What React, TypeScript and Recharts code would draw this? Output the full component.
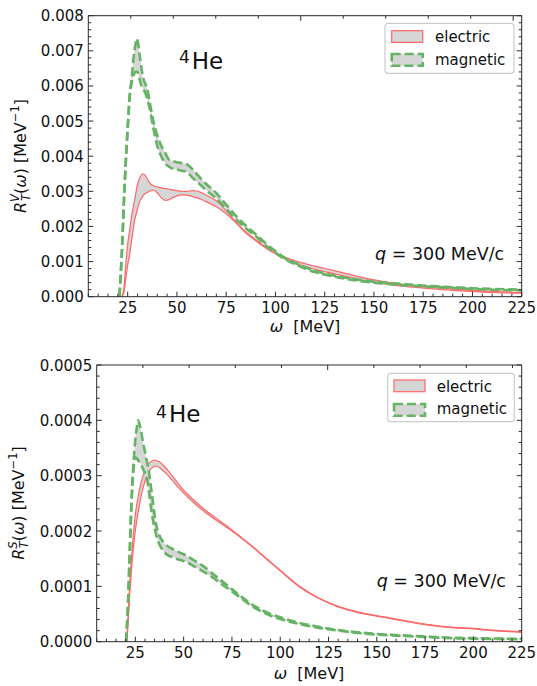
import React from "react";
import { ComposedChart, Area, XAxis, YAxis } from "recharts";

const FONT = "'DejaVu Sans', sans-serif";
const RED = "#ff6666";
const GREEN = "#66b366";
const BAND = "#d6d6d6";
const AXIS = "#2b2b2b";
const W = 537;
const H = 343;

// ---- isovector panel (top) ----
const omegaV = [20.8, 21, 22, 23, 24, 25, 26, 27, 28, 29, 29.6, 30, 31, 32, 33, 34, 35, 36, 38, 40, 42, 44, 46, 48, 50, 52, 55, 58, 60, 62, 65, 70, 75, 80, 85, 90, 95, 100, 105, 110, 115, 120, 130, 140, 150, 160, 170, 180, 190, 200, 210, 225];
const elecHiV = [null, null, 0, 0.0002, 0.0009, 0.0015, 0.0019, 0.0023, 0.0026, 0.0029, 0.0031, 0.0032, 0.00337, 0.00347, 0.0035, 0.00345, 0.00335, 0.00325, 0.00316, 0.00313, 0.0031, 0.00308, 0.00306, 0.00304, 0.00302, 0.003, 0.003, 0.00302, 0.00301, 0.00297, 0.00289, 0.00273, 0.00245, 0.00212, 0.00184, 0.00162, 0.00142, 0.00126, 0.00112, 0.00102, 0.00094, 0.00087, 0.00074, 0.0006, 0.00048, 0.00039, 0.00031, 0.00026, 0.00022, 0.00018, 0.00015, 0.00012];
const elecLoV = [null, null, 0, 0.0001, 0.0005, 0.0009, 0.0012, 0.0016, 0.002, 0.0023, 0.0024, 0.0025, 0.0027, 0.0028, 0.00289, 0.00294, 0.00297, 0.003, 0.00303, 0.00296, 0.00282, 0.00274, 0.00276, 0.00282, 0.00287, 0.0029, 0.00289, 0.00285, 0.00282, 0.00278, 0.0027, 0.00256, 0.00236, 0.0021, 0.00181, 0.00159, 0.00139, 0.00122, 0.00107, 0.00096, 0.00086, 0.00078, 0.00065, 0.00052, 0.00041, 0.00033, 0.00027, 0.00022, 0.00018, 0.00015, 0.00012, 0.0001];
const magHiV = [0, 0.0002, 0.0012, 0.0026, 0.0038, 0.0048, 0.0057, 0.0062, 0.0068, 0.0072, 0.00735, 0.0073, 0.0069, 0.0065, 0.0062, 0.00605, 0.0059, 0.0056, 0.005, 0.0046, 0.0043, 0.0041, 0.0039, 0.00386, 0.00383, 0.00381, 0.00377, 0.00362, 0.0035, 0.00337, 0.0032, 0.00295, 0.00262, 0.0023, 0.00202, 0.00178, 0.00152, 0.0013, 0.0011, 0.00096, 0.00084, 0.00074, 0.0006, 0.0005, 0.00043, 0.00038, 0.00034, 0.0003, 0.00027, 0.00024, 0.00022, 0.0002];
const magLoV = [0, 0.0002, 0.0012, 0.0026, 0.0038, 0.0048, 0.0057, 0.0061, 0.0063, 0.0064, 0.0064, 0.0064, 0.0062, 0.006, 0.0059, 0.0058, 0.0056, 0.0054, 0.0048, 0.0043, 0.004, 0.0038, 0.0037, 0.00364, 0.00362, 0.00359, 0.00355, 0.00338, 0.00328, 0.00318, 0.00302, 0.0028, 0.0025, 0.0022, 0.00194, 0.00172, 0.00146, 0.00125, 0.00106, 0.00092, 0.0008, 0.0007, 0.00057, 0.00047, 0.0004, 0.00035, 0.00031, 0.00028, 0.00025, 0.00022, 0.0002, 0.00018];
const yTicksV = [0, 0.001, 0.002, 0.003, 0.004, 0.005, 0.006, 0.007, 0.008];

// ---- isoscalar panel (bottom) ----
const omegaS = [20.2, 20.5, 21, 22, 23, 24, 25, 26, 26.5, 27, 28, 29, 30, 31, 32, 33, 34, 35, 36, 38, 40, 42, 44, 46, 48, 50, 55, 60, 65, 70, 75, 80, 85, 90, 95, 100, 110, 120, 130, 140, 150, 160, 175, 190, 200, 210, 225];
const elecHiS = [null, 0, 0.00003, 0.0001, 0.00015, 0.000195, 0.00023, 0.000253, 0.000263, 0.000272, 0.000288, 0.0003, 0.00031, 0.000317, 0.000322, 0.000325, 0.000327, 0.000328, 0.000327, 0.000324, 0.000317, 0.000309, 0.0003, 0.000291, 0.000282, 0.000274, 0.000257, 0.000241, 0.000228, 0.000215, 0.000202, 0.000188, 0.000174, 0.000159, 0.000144, 0.000129, 0.0001, 0.000079, 0.000064, 0.000054, 0.000047, 0.000041, 0.000032, 0.000026, 0.000024, 0.000021, 0.000018];
const elecLoS = [null, 0, 0.00002, 0.00008, 0.00013, 0.00017, 0.0002, 0.000225, 0.000235, 0.000245, 0.000263, 0.000278, 0.00029, 0.0003, 0.000307, 0.000312, 0.000315, 0.000317, 0.000317, 0.000313, 0.000307, 0.0003, 0.000292, 0.000284, 0.000276, 0.000269, 0.000252, 0.000237, 0.000224, 0.000212, 0.0002, 0.000187, 0.000173, 0.000158, 0.000143, 0.000128, 0.000099, 0.000078, 0.000063, 0.000053, 0.000046, 0.00004, 0.000031, 0.000025, 0.000023, 0.00002, 0.000017];
const magHiS = [0, 0.00002, 0.00005, 0.00015, 0.00025, 0.00032, 0.000365, 0.000392, 0.0004, 0.000395, 0.00038, 0.00036, 0.000343, 0.000325, 0.000308, 0.000282, 0.000255, 0.000228, 0.000208, 0.000188, 0.000178, 0.000172, 0.000168, 0.000165, 0.000161, 0.000158, 0.000148, 0.000137, 0.000123, 0.000109, 0.000095, 0.000081, 0.000068, 0.000058, 0.00005, 0.000044, 0.000034, 0.000027, 0.000021, 0.000017, 0.000014, 0.000012, 0.0000095, 0.000007, 0.0000065, 0.0000058, 0.000005];
const magLoS = [0, 0.00002, 0.00005, 0.00015, 0.00025, 0.00031, 0.000333, 0.00033, 0.000328, 0.000325, 0.00032, 0.000312, 0.000305, 0.000295, 0.000272, 0.000245, 0.000222, 0.000205, 0.00019, 0.000172, 0.000162, 0.000156, 0.000153, 0.00015, 0.000148, 0.000146, 0.000137, 0.000127, 0.000116, 0.000103, 0.000091, 0.000078, 0.000065, 0.000055, 0.000047, 0.000041, 0.000032, 0.000025, 0.00002, 0.000016, 0.000013, 0.000011, 0.0000085, 0.0000062, 0.0000055, 0.000005, 0.0000042];
const yTicksS = [0, 0.0001, 0.0002, 0.0003, 0.0004, 0.0005];

const xTicks = [25, 50, 75, 100, 125, 150, 175, 200, 225];

function minorTicks(lo: number, hi: number, step: number) {
  const out: number[] = [];
  const n = Math.round((hi - lo) / step);
  for (let i = 0; i <= n; i++) out.push(+(lo + i * step).toPrecision(10));
  return out;
}

const xAll = minorTicks(5, 225, 5);

function isMajor(v: number, majors: number[]) {
  const tol = 1e-6 * Math.abs(majors[1] - majors[0]);
  return majors.some((m) => Math.abs(m - v) < tol);
}

function buildRows(omega: number[], eHi: (number | null)[], eLo: (number | null)[], mHi: (number | null)[], mLo: (number | null)[]) {
  return omega.map((w, i) => ({ w, eHi: eHi[i], eLo: eLo[i], mHi: mHi[i], mLo: mLo[i] }));
}

const elecBand = (d: any) => (d.eHi == null ? [null, null] : [d.eLo, d.eHi]);
const magBand = (d: any) => (d.mHi == null ? [null, null] : [d.mLo, d.mHi]);

const textStyle = { fontFamily: FONT, fill: "#111" };

interface PanelProps {
  top: number;
  rows: any[];
  yMax: number;
  yTicks: number[];
  yMinorStep: number;
  digits: number;
  margin: { top: number; right: number; bottom: number; left: number };
  sup: string;
  ylabelPos: [number, number];
  hePos: { x4: number; y4: number; xHe: number; yHe: number };
  qPos: [number, number];
  xlabelPos: [number, number];
  legend: { x: number; y: number; w: number; h: number; px: number; py1: number; py2: number; tx: number; ty1: number; ty2: number };
}

function Panel(p: PanelProps) {
  const yAll = minorTicks(0, p.yMax, p.yMinorStep);
  const ymaj = (v: number) => isMajor(v, p.yTicks);
  const xmaj = (v: number) => isMajor(v, xTicks);

  const bottomTick = (t: any) => {
    const v = t.payload.value;
    const m = xmaj(v);
    return (
      <g key={`b${v}`}>
        <line x1={t.x} x2={t.x} y1={t.y} y2={t.y - (m ? 5 : 3)} stroke={AXIS} strokeWidth={1} />
        {m && (
          <text x={t.x} y={t.y + 16.5} textAnchor="middle" fontSize={15} {...textStyle}>
            {v}
          </text>
        )}
      </g>
    );
  };
  const topTick = (t: any) => {
    const v = t.payload.value;
    return <line key={`t${v}`} x1={t.x} x2={t.x} y1={t.y} y2={t.y + (xmaj(v) ? 5 : 3)} stroke={AXIS} strokeWidth={1} />;
  };
  const leftTick = (t: any) => {
    const v = t.payload.value;
    const m = ymaj(v);
    return (
      <g key={`l${v}`}>
        <line x1={t.x} x2={t.x + (m ? 5 : 3)} y1={t.y} y2={t.y} stroke={AXIS} strokeWidth={1} />
        {m && (
          <text x={t.x - 4.5} y={t.y + 5.5} textAnchor="end" fontSize={15} {...textStyle}>
            {v.toFixed(p.digits)}
          </text>
        )}
      </g>
    );
  };
  const rightTick = (t: any) => {
    const v = t.payload.value;
    return <line key={`r${v}`} x1={t.x} x2={t.x - (ymaj(v) ? 5 : 3)} y1={t.y} y2={t.y} stroke={AXIS} strokeWidth={1} />;
  };

  const lg = p.legend;
  return (
    <div style={{ position: "absolute", left: 0, top: p.top, width: W, height: H }}>
      <ComposedChart width={W} height={H} data={p.rows} margin={p.margin}>
        <XAxis xAxisId="b" dataKey="w" type="number" domain={[5, 225]} allowDataOverflow ticks={xAll} interval={0} tickSize={0} tickMargin={0} tickLine={false} axisLine={{ stroke: AXIS }} tick={bottomTick} height={30} />
        <XAxis xAxisId="t" orientation="top" mirror type="number" domain={[5, 225]} allowDataOverflow ticks={xAll} interval={0} tickSize={0} tickMargin={0} tickLine={false} axisLine={{ stroke: AXIS }} tick={topTick} />
        <YAxis yAxisId="l" type="number" domain={[0, p.yMax]} allowDataOverflow ticks={yAll} interval={0} tickSize={0} tickMargin={0} tickLine={false} axisLine={{ stroke: AXIS }} tick={leftTick} width={60} />
        <YAxis yAxisId="r" orientation="right" mirror type="number" domain={[0, p.yMax]} allowDataOverflow ticks={yAll} interval={0} tickSize={0} tickMargin={0} tickLine={false} axisLine={{ stroke: AXIS }} tick={rightTick} />
        <Area xAxisId="b" yAxisId="l" type="monotone" dataKey={elecBand} fill={BAND} fillOpacity={1} stroke={RED} strokeWidth={1.2} isAnimationActive={false} dot={false} activeDot={false} />
        <Area xAxisId="b" yAxisId="l" type="monotone" dataKey={magBand} fill={BAND} fillOpacity={1} stroke={GREEN} strokeWidth={2.6} strokeDasharray="9 4" isAnimationActive={false} dot={false} activeDot={false} />
      </ComposedChart>
      <svg width={W} height={H} style={{ position: "absolute", left: 0, top: 0, pointerEvents: "none" }}>
        <text transform={`translate(${p.ylabelPos[0]},${p.ylabelPos[1]}) rotate(-90)`} textAnchor="middle" fontSize={16} {...textStyle}>
          <tspan fontStyle="italic">R</tspan>
          <tspan fontStyle="italic" fontSize={11.5} dy={-7}>{p.sup}</tspan>
          <tspan fontStyle="italic" fontSize={11.5} dx={-7} dy={11}>T</tspan>
          <tspan dy={-4}>(</tspan>
          <tspan fontStyle="italic">ω</tspan>
          <tspan>) [MeV</tspan>
          <tspan fontSize={11.5} dy={-7}>−1</tspan>
          <tspan dy={7}>]</tspan>
        </text>
        <text x={p.xlabelPos[0]} y={p.xlabelPos[1]} textAnchor="middle" fontSize={16} {...textStyle}>
          <tspan fontStyle="italic">ω</tspan>
          <tspan>{"\u00a0\u00a0[MeV]"}</tspan>
        </text>
        <text {...textStyle}>
          <tspan x={p.hePos.x4} y={p.hePos.y4} fontSize={17}>4</tspan>
          <tspan x={p.hePos.xHe} y={p.hePos.yHe} fontSize={23}>He</tspan>
        </text>
        <text x={p.qPos[0]} y={p.qPos[1]} fontSize={17.5} {...textStyle}>
          <tspan fontStyle="italic">q</tspan>
          <tspan>{" = 300 MeV/c"}</tspan>
        </text>
        <rect x={lg.x} y={lg.y} width={lg.w} height={lg.h} rx={3} fill="#fff" fillOpacity={0.85} stroke="#cccccc" strokeWidth={1.2} />
        <rect x={lg.px} y={lg.py1} width={31} height={11.7} fill={BAND} stroke={RED} strokeWidth={1.2} />
        <rect x={lg.px} y={lg.py2} width={31} height={11.7} fill={BAND} stroke={GREEN} strokeWidth={2.6} strokeDasharray="9 4" />
        <text x={lg.tx} y={lg.ty1} fontSize={15} {...textStyle}>electric</text>
        <text x={lg.tx} y={lg.ty2} fontSize={15} {...textStyle}>magnetic</text>
      </svg>
    </div>
  );
}

export default function App() {
  const rowsV = buildRows(omegaV, elecHiV, elecLoV, magHiV, magLoV);
  const rowsS = buildRows(omegaS, elecHiS, elecLoS, magHiS, magLoS);
  return (
    <div style={{ position: "absolute", left: 0, top: 0, width: W, height: 686, background: "#fff" }}>
      <Panel
        top={0}
        rows={rowsV}
        yMax={0.008}
        yTicks={yTicksV}
        yMinorStep={0.0002}
        digits={3}
        margin={{ top: 15.7, right: 15.3, bottom: 16.3, left: 28.3 }}
        sup="V"
        ylabelPos={[26, 156]}
        hePos={{ x4: 179, y4: 63, xHe: 191.7, yHe: 69 }}
        qPos={[375, 260]}
        xlabelPos={[305, 331.5]}
        legend={{ x: 385, y: 23.3, w: 129, h: 50, px: 391.7, py1: 30.7, py2: 54, tx: 435, ty1: 42, ty2: 65 }}
      />
      <Panel
        top={343}
        rows={rowsS}
        yMax={0.0005}
        yTicks={yTicksS}
        yMinorStep={0.00002}
        digits={4}
        margin={{ top: 22, right: 15.3, bottom: 14.3, left: 36.7 }}
        sup="S"
        ylabelPos={[24, 160]}
        hePos={{ x4: 156, y4: 75, xHe: 169, yHe: 78.7 }}
        qPos={[376.7, 243.7]}
        xlabelPos={[309, 336]}
        legend={{ x: 387.7, y: 30.3, w: 126.6, h: 48.4, px: 394, py1: 37, py2: 61, tx: 436.7, ty1: 48.5, ty2: 71 }}
      />
    </div>
  );
}
